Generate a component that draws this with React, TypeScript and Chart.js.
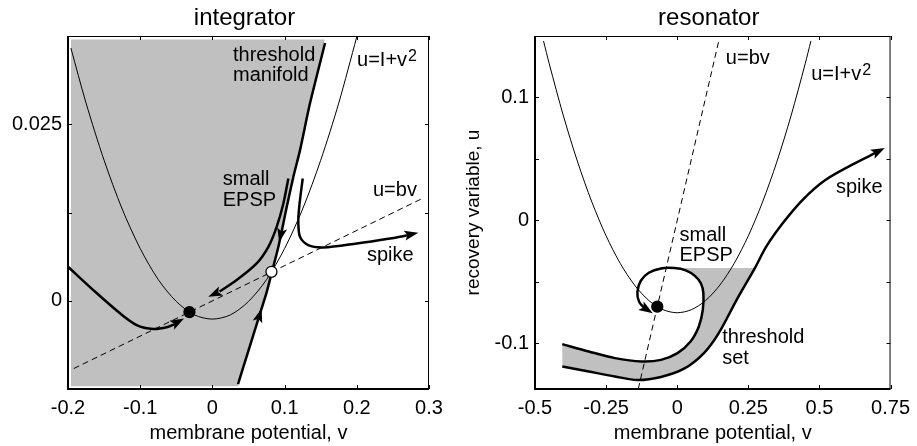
import React, { useEffect, useRef } from "react";
import { Chart, registerables } from "chart.js";

Chart.register(...registerables);

const FONT = "'Liberation Sans', Arial, Helvetica, sans-serif";
const GRAY = "rgb(192,192,192)";

// ---------------- integrator (left) ----------------
const intXTicks = [-0.2, -0.1, 0, 0.1, 0.2, 0.3];
const intXTickLabels = ["-0.2", "-0.1", "0", "0.1", "0.2", "0.3"];
const intYTicks = [-0.0125, 0, 0.0125, 0.025, 0.0375];
const intYTickLabels = ["", "0", "", "0.025", ""];

const intParabolaV = [-0.196, -0.175, -0.15, -0.125, -0.1, -0.075, -0.05, -0.025, 0, 0.025, 0.05, 0.075, 0.1, 0.125, 0.15, 0.175, 0.2];
const intParabolaU = [0.0358, 0.028, 0.0199, 0.013, 0.0074, 0.003, -0.0001, -0.002, -0.0026, -0.002, -0.0001, 0.003, 0.0074, 0.013, 0.0199, 0.028, 0.0374];

const intDashV = [-0.192, 0.289];
const intDashU = [-0.0096, 0.0144];

const intManifoldV = [0.0355, 0.0492, 0.0632, 0.0751, 0.0825, 0.0913, 0.103, 0.112, 0.1213, 0.135, 0.156];
const intManifoldU = [-0.0118, -0.0073, -0.0027, 0.0012, 0.0041, 0.0076, 0.0133, 0.0175, 0.0213, 0.0279, 0.0365];

const intGrayV = [-0.1958, 0.1555, 0.135, 0.1213, 0.112, 0.103, 0.0913, 0.0825, 0.0751, 0.0632, 0.0492, 0.0355, -0.1958];
const intGrayU = [0.037, 0.037, 0.0279, 0.0213, 0.0175, 0.0133, 0.0076, 0.0041, 0.0012, -0.0027, -0.0073, -0.0121, -0.0121];

const intEpspV = [0.1052, 0.0983, 0.089, 0.0775, 0.0613, 0.0336, 0.01];
const intEpspU = [0.01732, 0.01378, 0.01047, 0.00764, 0.00529, 0.00293, 0.0013];

const intSpikeV = [0.1251, 0.121, 0.119, 0.1213, 0.1328, 0.1536, 0.1999, 0.246, 0.272];
const intSpikeU = [0.01732, 0.014, 0.01142, 0.00906, 0.00788, 0.00755, 0.00812, 0.00883, 0.0093];

const intLeftV = [-0.2, -0.165, -0.128, -0.1049, -0.0818, -0.0633, -0.052];
const intLeftU = [0.00481, 0.00151, -0.00178, -0.00344, -0.004, -0.00376, -0.0033];

const intStableV = [-0.0318];
const intStableU = [-0.0016];
const intSaddleV = [0.0818];
const intSaddleU = [0.0041];

// arrowheads: tip and a point behind it on the curve
const intArrowTipV = [-0.0393, -0.0057, 0.2852, 0.0925, 0.0682];
const intArrowTipU = [-0.00253, 0.00057, 0.00962, 0.0083, -0.0011];
const intArrowTailV = [-0.056, 0.01, 0.26, 0.103, 0.0492];
const intArrowTailU = [-0.00345, 0.0013, 0.0091, 0.0133, -0.0073];

const intLabels = ["threshold", "manifold", "u=I+v", "small", "EPSP", "u=bv", "spike"];
const intLabelSup = ["", "", "2", "", "", "", ""];
const intLabelV = [0.0285, 0.0285, 0.2003, 0.0143, 0.0143, 0.2224, 0.2141];
const intLabelU = [0.03391, 0.03108, 0.03321, 0.01637, 0.0134, 0.01481, 0.00562];

// ---------------- resonator (right) ----------------
const resXTicks = [-0.5, -0.25, 0, 0.25, 0.5, 0.75];
const resXTickLabels = ["-0.5", "-0.25", "0", "0.25", "0.5", "0.75"];
const resYTicks = [-0.1, -0.05, 0, 0.05, 0.1];
const resYTickLabels = ["-0.1", "", "0", "", "0.1"];

const resParabolaV = [-0.47, -0.45, -0.4, -0.35, -0.3, -0.25, -0.2, -0.15, -0.1, -0.05, 0, 0.05, 0.1, 0.15, 0.2, 0.25, 0.3, 0.35, 0.4, 0.45, 0.47];
const resParabolaU = [0.1459, 0.1275, 0.085, 0.0475, 0.015, -0.0125, -0.035, -0.0525, -0.065, -0.0725, -0.075, -0.0725, -0.065, -0.0525, -0.035, -0.0125, 0.015, 0.0475, 0.085, 0.1275, 0.1459];

const resDashV = [-0.137, 0.147];
const resDashU = [-0.137, 0.147];

const resLoopV = [-0.404, -0.311, -0.219, -0.126, -0.057, 0.001, 0.047, 0.076, 0.09, 0.092, 0.083, 0.062, 0.03, -0.01, -0.057, -0.1, -0.128, -0.14, -0.134, -0.112];
const resLoopU = [-0.1005, -0.1065, -0.1119, -0.1146, -0.1133, -0.1078, -0.0984, -0.0862, -0.0726, -0.059, -0.051, -0.045, -0.0405, -0.0387, -0.039, -0.0425, -0.049, -0.058, -0.066, -0.072];

const resSpikeV = [-0.404, -0.311, -0.219, -0.14, -0.057, 0.024, 0.094, 0.146, 0.209, 0.273, 0.3135, 0.3715, 0.441, 0.522, 0.626, 0.7];
const resSpikeU = [-0.1187, -0.1228, -0.1268, -0.1297, -0.1272, -0.1205, -0.1078, -0.0916, -0.0645, -0.0387, -0.0211, -0.0021, 0.0168, 0.0331, 0.0467, 0.0553];

const resGrayV = [-0.404, -0.311, -0.219, -0.126, -0.057, 0.001, 0.047, 0.076, 0.09, 0.092, 0.083, 0.062, 0.03, 0.01, 0.273, 0.209, 0.146, 0.094, 0.024, -0.057, -0.14, -0.219, -0.311, -0.404];
const resGrayU = [-0.1005, -0.1065, -0.1119, -0.1146, -0.1133, -0.1078, -0.0984, -0.0862, -0.0726, -0.059, -0.051, -0.045, -0.0405, -0.0387, -0.0387, -0.0645, -0.0916, -0.1078, -0.1205, -0.1272, -0.1297, -0.1268, -0.1228, -0.1187];

const resStableV = [-0.0701];
const resStableU = [-0.0701];

const resArrowTipV = [-0.086, 0.73];
const resArrowTipU = [-0.0755, 0.0589];
const resArrowTailV = [-0.115, 0.69];
const resArrowTailU = [-0.0712, 0.0543];

const resLabels = ["u=bv", "u=I+v", "spike", "small", "EPSP", "threshold", "set"];
const resLabelSup = ["", "2", "", "", "", "", ""];
const resLabelV = [0.171, 0.471, 0.558, 0.008, 0.008, 0.158, 0.158];
const resLabelU = [0.1274, 0.1144, 0.0225, -0.0163, -0.0333, -0.0997, -0.1165];

// ---------------- helpers ----------------
type Pt = { x: number; y: number };
const zip = (v: number[], u: number[]): Pt[] => v.map((x, i) => ({ x, y: u[i] }));

const thick = (data: Pt[], tension = 0.3) => ({
  data,
  borderColor: "#000",
  borderWidth: 2.5,
  pointRadius: 0,
  tension,
  fill: false,
});
const thin = (data: Pt[]) => ({
  data,
  borderColor: "#000",
  borderWidth: 1,
  pointRadius: 0,
  tension: 0.3,
  fill: false,
});
const dashed = (data: Pt[]) => ({
  data,
  borderColor: "#000",
  borderWidth: 1,
  borderDash: [6, 4],
  pointRadius: 0,
  tension: 0,
  fill: false,
});
const grayArea = (data: Pt[]) => ({
  data,
  borderColor: "rgba(0,0,0,0)",
  borderWidth: 0,
  backgroundColor: GRAY,
  pointRadius: 0,
  tension: 0,
  fill: "shape",
});
const dot = (data: Pt[], bg: string) => ({
  data,
  showLine: false,
  pointRadius: 5.5,
  pointBackgroundColor: bg,
  pointBorderColor: "#000",
  pointBorderWidth: 1.3,
});

interface Spec {
  title: string;
  xMin: number; xMax: number; yMin: number; yMax: number;
  xTicks: number[]; xLabels: string[]; yTicks: number[]; yLabels: string[];
  yTitle: string;
  yWidth: number;
  padRight: number;
  datasets: any[];
  labels: string[]; labelSup: string[]; labelV: number[]; labelU: number[];
  tipV: number[]; tipU: number[]; tailV: number[]; tailU: number[];
}

function makeDecor(s: Spec) {
  return {
    id: "decor",
    afterDatasetsDraw(chart: any) {
      const { ctx, chartArea: a, scales } = chart;
      const xs = scales.x;
      const ys = scales.y;
      ctx.save();
      // arrowheads
      ctx.fillStyle = "#000";
      for (let i = 0; i < s.tipV.length; i++) {
        const tx = xs.getPixelForValue(s.tipV[i]);
        const ty = ys.getPixelForValue(s.tipU[i]);
        const bx = xs.getPixelForValue(s.tailV[i]);
        const by = ys.getPixelForValue(s.tailU[i]);
        const ang = Math.atan2(ty - by, tx - bx);
        ctx.save();
        ctx.translate(tx, ty);
        ctx.rotate(ang);
        ctx.beginPath();
        ctx.moveTo(0, 0);
        ctx.lineTo(-14, -5);
        ctx.lineTo(-11, 0);
        ctx.lineTo(-14, 5);
        ctx.closePath();
        ctx.fill();
        ctx.restore();
      }
      // inner tick marks
      ctx.strokeStyle = "#000";
      ctx.lineWidth = 1;
      const tl = 4;
      ctx.beginPath();
      for (const t of xs.ticks) {
        const px = Math.round(xs.getPixelForValue(t.value)) + 0.5;
        ctx.moveTo(px, a.bottom);
        ctx.lineTo(px, a.bottom - tl);
        ctx.moveTo(px, a.top);
        ctx.lineTo(px, a.top + tl);
      }
      for (const t of ys.ticks) {
        const py = Math.round(ys.getPixelForValue(t.value)) + 0.5;
        ctx.moveTo(a.left, py);
        ctx.lineTo(a.left + tl, py);
        ctx.moveTo(a.right, py);
        ctx.lineTo(a.right - tl, py);
      }
      ctx.stroke();
      // frame
      ctx.lineWidth = 1;
      ctx.beginPath();
      ctx.moveTo(a.left, a.top + 0.5);
      ctx.lineTo(a.right, a.top + 0.5);
      ctx.moveTo(a.right - 0.5, a.top);
      ctx.lineTo(a.right - 0.5, a.bottom);
      ctx.stroke();
      ctx.lineWidth = 2;
      ctx.beginPath();
      ctx.moveTo(a.left, a.bottom);
      ctx.lineTo(a.right, a.bottom);
      ctx.moveTo(a.left, a.top);
      ctx.lineTo(a.left, a.bottom + 1);
      ctx.stroke();
      // annotations
      ctx.fillStyle = "#000";
      ctx.textAlign = "left";
      ctx.textBaseline = "alphabetic";
      for (let i = 0; i < s.labels.length; i++) {
        const px = xs.getPixelForValue(s.labelV[i]);
        const py = ys.getPixelForValue(s.labelU[i]);
        ctx.font = `20px ${FONT}`;
        ctx.fillText(s.labels[i], px, py);
        if (s.labelSup[i]) {
          const w = ctx.measureText(s.labels[i]).width;
          ctx.font = `16px ${FONT}`;
          ctx.fillText(s.labelSup[i], px + w + 1, py - 5);
        }
      }
      // title
      ctx.font = `24px ${FONT}`;
      ctx.textAlign = "center";
      ctx.fillText(s.title, (a.left + a.right) / 2 - 4, 25);
      ctx.restore();
    },
  };
}

function buildConfig(s: Spec): any {
  return {
    type: "line",
    data: { datasets: s.datasets },
    options: {
      animation: false,
      responsive: false,
      events: [],
      layout: { padding: { left: 0, top: 36, right: s.padRight, bottom: 0 } },
      plugins: {
        legend: { display: false },
        tooltip: { enabled: false },
        title: { display: false },
      },
      scales: {
        x: {
          type: "linear",
          min: s.xMin,
          max: s.xMax,
          afterBuildTicks: (sc: any) => {
            sc.ticks = s.xTicks.map((value) => ({ value }));
          },
          afterFit: (sc: any) => {
            sc.height = 57;
          },
          grid: { display: false, drawTicks: false },
          border: { display: false },
          ticks: {
            autoSkip: false,
            maxRotation: 0,
            padding: 7,
            color: "#000",
            font: { family: FONT, size: 20 },
            callback: (_v: any, i: number) => s.xLabels[i],
          },
          title: {
            display: true,
            text: "membrane potential, v",
            color: "#000",
            font: { family: FONT, size: 20 },
            padding: { top: 0, bottom: 1 },
          },
        },
        y: {
          type: "linear",
          min: s.yMin,
          max: s.yMax,
          afterBuildTicks: (sc: any) => {
            sc.ticks = s.yTicks.map((value) => ({ value }));
          },
          afterFit: (sc: any) => {
            sc.width = s.yWidth;
          },
          grid: { display: false, drawTicks: false },
          border: { display: false },
          ticks: {
            autoSkip: false,
            padding: 6,
            color: "#000",
            font: { family: FONT, size: 20 },
            callback: (_v: any, i: number) => s.yLabels[i],
          },
          title: {
            display: !!s.yTitle,
            text: s.yTitle,
            color: "#000",
            font: { family: FONT, size: 19 },
            padding: { top: 4.5, bottom: 0 },
          },
        },
      },
    },
    plugins: [makeDecor(s)],
  };
}

const integratorSpec: Spec = {
  title: "integrator",
  xMin: -0.2, xMax: 0.3, yMin: -0.0125, yMax: 0.0375,
  xTicks: intXTicks, xLabels: intXTickLabels, yTicks: intYTicks, yLabels: intYTickLabels,
  yTitle: "",
  yWidth: 68,
  padRight: 29,
  datasets: [
    dot(zip(intStableV, intStableU), "#000"),
    dot(zip(intSaddleV, intSaddleU), "#fff"),
    thick(zip(intLeftV, intLeftU)),
    thick(zip(intEpspV, intEpspU)),
    thick(zip(intSpikeV, intSpikeU)),
    thick(zip(intManifoldV, intManifoldU), 0.2),
    thin(zip(intParabolaV, intParabolaU)),
    dashed(zip(intDashV, intDashU)),
    grayArea(zip(intGrayV, intGrayU)),
  ],
  labels: intLabels, labelSup: intLabelSup, labelV: intLabelV, labelU: intLabelU,
  tipV: intArrowTipV, tipU: intArrowTipU, tailV: intArrowTailV, tailU: intArrowTailU,
};

const resonatorSpec: Spec = {
  title: "resonator",
  xMin: -0.5, xMax: 0.75, yMin: -0.137, yMax: 0.15,
  xTicks: resXTicks, xLabels: resXTickLabels, yTicks: resYTicks, yLabels: resYTickLabels,
  yTitle: "recovery variable, u",
  yWidth: 77,
  padRight: 22,
  datasets: [
    dot(zip(resStableV, resStableU), "#000"),
    thick(zip(resLoopV, resLoopU)),
    thick(zip(resSpikeV, resSpikeU)),
    thin(zip(resParabolaV, resParabolaU)),
    dashed(zip(resDashV, resDashU)),
    grayArea(zip(resGrayV, resGrayU)),
  ],
  labels: resLabels, labelSup: resLabelSup, labelV: resLabelV, labelU: resLabelU,
  tipV: resArrowTipV, tipU: resArrowTipU, tailV: resArrowTailV, tailU: resArrowTailU,
};

export default function App() {
  const leftRef = useRef<HTMLCanvasElement>(null);
  const rightRef = useRef<HTMLCanvasElement>(null);
  useEffect(() => {
    const c1 = new Chart(leftRef.current as HTMLCanvasElement, buildConfig(integratorSpec));
    const c2 = new Chart(rightRef.current as HTMLCanvasElement, buildConfig(resonatorSpec));
    return () => {
      c1.destroy();
      c2.destroy();
    };
  }, []);
  return (
    <div
      style={{
        position: "fixed",
        left: 0,
        top: 0,
        width: 917,
        height: 446,
        background: "#fff",
        overflow: "hidden",
      }}
    >
      <canvas ref={leftRef} width={458} height={446} style={{ position: "absolute", left: 0, top: 0 }} />
      <canvas ref={rightRef} width={459} height={446} style={{ position: "absolute", left: 458, top: 0 }} />
    </div>
  );
}
